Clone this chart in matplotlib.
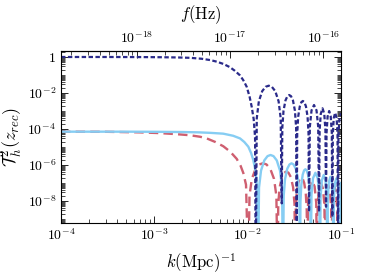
import numpy as np
import matplotlib
matplotlib.use('Agg')
import matplotlib.pyplot as plt
from matplotlib.ticker import LogLocator, NullFormatter, FixedLocator

plt.rcParams['mathtext.fontset'] = 'cm'
plt.rcParams['font.family'] = 'DejaVu Serif'

# dark blue dashed curve
k_dark = [1e-4, 3e-4, 7e-4, 1.2e-3, 1.8e-3, 2.41e-3, 3.2e-3, 4.0e-3, 4.66e-3, 5.5e-3,
          6.47e-3, 7.3e-3, 8.28e-3, 9.0e-3, 9.77e-3, 0.0105, 0.01105, 0.0116, 0.0120, 0.0122,
          0.012517, 0.013176, 0.014320, 0.015563, 0.016809, 0.018155, 0.019736, 0.021446, 0.022574,
          0.02316,
          0.023505, 0.024211, 0.025403, 0.026657, 0.027867, 0.029133, 0.030571, 0.032077, 0.033039,
          0.03353,
          0.033940, 0.034774, 0.036176, 0.037628, 0.039029, 0.040477, 0.042110, 0.043803, 0.044879,
          0.04543,
          0.04634, 0.04832, 0.05138, 0.05465, 0.05699, 0.05813,
          0.05900, 0.06069, 0.06339, 0.06617, 0.06808, 0.06910,
          0.06995, 0.07187, 0.07467, 0.07758, 0.07971, 0.08072,
          0.08170, 0.08356, 0.08659, 0.08978, 0.09178, 0.09292,
          0.09384, 0.09594, 0.0992, 0.1]
t_dark = [1.0, 1.0, 0.99, 0.97, 0.94, 0.9, 0.8, 0.67, 0.55, 0.41,
          0.27, 0.17, 0.095, 0.05, 0.022, 6e-3, 1.7e-3, 3.5e-4, 3.5e-5, 1e-12,
          4.0e-4, 3.46e-3, 0.01275, 0.02204, 0.0255, 0.02204, 0.01275, 3.46e-3, 4.0e-4,
          7.4e-9,
          1.21e-4, 1.04e-3, 3.85e-3, 6.66e-3, 7.7e-3, 6.66e-3, 3.85e-3, 1.04e-3, 1.21e-4,
          7e-10,
          5.65e-5, 4.88e-4, 1.8e-3, 3.11e-3, 3.6e-3, 3.11e-3, 1.8e-3, 4.88e-4, 5.65e-5,
          2.5e-9,
          1.3e-4, 1.08e-3, 2.15e-3, 1.08e-3, 1.3e-4, 2.5e-9,
          8.5e-5, 7e-4, 1.41e-3, 7e-4, 8.5e-5, 4.8e-9,
          6e-5, 5e-4, 1e-3, 5e-4, 6e-5, 1.3e-9,
          4.8e-5, 4e-4, 8e-4, 4e-4, 4.8e-5, 1e-12,
          4e-5, 3.3e-4, 6.6e-4, 6.5e-4]

# light blue solid curve
k_light = [1e-4, 5e-4, 1e-3, 2e-3, 3e-3, 4e-3, 5.48e-3, 7e-3, 8.28e-3, 9.2e-3,
           0.01016, 0.0109, 0.01148, 0.0122, 0.0125, 0.01291,
           0.013232, 0.013901, 0.015061, 0.016319, 0.017570, 0.018917, 0.020497, 0.022208, 0.023331,
           0.02391,
           0.024315, 0.025145, 0.026554, 0.028042, 0.029493, 0.031016, 0.032756, 0.034594, 0.035776,
           0.03638,
           0.036766, 0.037551, 0.038862, 0.040217, 0.041513, 0.042844, 0.044339, 0.045888, 0.046867,
           0.04737,
           0.04825, 0.05017, 0.05313, 0.05626, 0.05851, 0.05958,
           0.06044, 0.06234, 0.06520, 0.06822, 0.07034, 0.07135,
           0.07219, 0.07404, 0.07683, 0.07971, 0.08176, 0.08273,
           0.08371, 0.08586, 0.08911, 0.09246, 0.09482, 0.09594,
           0.09701, 0.09931, 0.1]
t_light = [7.1e-5, 7.1e-5, 7.0e-5, 6.8e-5, 6.5e-5, 6.1e-5, 5.5e-5, 4.2e-5, 3.0e-5, 1.9e-5,
           1.04e-5, 4.5e-6, 1.9e-6, 4e-7, 1e-7, 1e-12,
           5.65e-8, 4.88e-7, 1.8e-6, 3.11e-6, 3.6e-6, 3.11e-6, 1.8e-6, 4.88e-7, 5.65e-8,
           1e-12,
           1.95e-8, 1.68e-7, 6.2e-7, 1.072e-6, 1.24e-6, 1.072e-6, 6.2e-7, 1.68e-7, 1.95e-8,
           1e-12,
           9.1e-9, 7.86e-8, 2.9e-7, 5.01e-7, 5.8e-7, 5.01e-7, 2.9e-7, 7.86e-8, 9.1e-9,
           1e-12,
           2.2e-8, 1.85e-7, 3.7e-7, 1.85e-7, 2.2e-8, 1e-12,
           1.7e-8, 1.4e-7, 2.8e-7, 1.4e-7, 1.7e-8, 1e-12,
           1.3e-8, 1.1e-7, 2.2e-7, 1.1e-7, 1.3e-8, 1e-12,
           1.1e-8, 9e-8, 1.8e-7, 9e-8, 1.1e-8, 1e-12,
           9e-9, 7.5e-8, 1e-7]

# red dashed curve
k_red = [1e-4, 3e-4, 7e-4, 1.15e-3, 1.7e-3, 2.41e-3, 3.1e-3, 3.64e-3, 4.5e-3, 5.48e-3,
         6.5e-3, 7.63e-3, 8.4e-3, 8.98e-3, 9.6e-3, 0.01016,
         0.010457, 0.011078, 0.012166, 0.013359, 0.014568, 0.015884, 0.017448, 0.019160, 0.020298,
         0.02089,
         0.021258, 0.022013, 0.023297, 0.024655, 0.025984, 0.027371, 0.028979, 0.030671, 0.031759,
         0.03232,
         0.032705, 0.033488, 0.034802, 0.036167, 0.037475, 0.038830, 0.040350, 0.041932, 0.042936,
         0.04345,
         0.04433, 0.04617, 0.04903, 0.05209, 0.05427, 0.05534,
         0.05617, 0.05813, 0.06107, 0.06416, 0.06642, 0.06742,
         0.06825, 0.07021, 0.07312, 0.07616, 0.07838, 0.07935,
         0.08032, 0.08234, 0.08543, 0.08866, 0.09087, 0.09201,
         0.09292, 0.09524, 0.09858, 0.1]
t_red = [7.1e-5, 7.0e-5, 6.5e-5, 5.9e-5, 5.2e-5, 4.5e-5, 3.7e-5, 3.0e-5, 1.9e-5, 1.1e-5,
         5.5e-6, 2.2e-6, 9e-7, 3.6e-7, 8e-8, 1e-12,
         1.96e-8, 1.69e-7, 6.25e-7, 1.08e-6, 1.25e-6, 1.08e-6, 6.25e-7, 1.69e-7, 1.96e-8,
         1e-12,
         6.75e-9, 5.83e-8, 2.15e-7, 3.72e-7, 4.3e-7, 3.72e-7, 2.15e-7, 5.83e-8, 6.75e-9,
         1e-12,
         3.1e-9, 2.7e-8, 1e-7, 1.73e-7, 2e-7, 1.73e-7, 1e-7, 2.7e-8, 3.1e-9,
         1e-12,
         8e-9, 6.5e-8, 1.3e-7, 6.5e-8, 8e-9, 1e-12,
         5.7e-9, 4.8e-8, 9.5e-8, 4.8e-8, 5.7e-9, 1e-12,
         4.5e-9, 3.8e-8, 7.5e-8, 3.8e-8, 4.5e-9, 1e-12,
         3.6e-9, 3e-8, 6e-8, 3e-8, 3.6e-9, 1e-12,
         3e-9, 2.5e-8, 5e-8, 4.5e-8]

y_ticks = [1e-8, 1e-6, 1e-4, 1e-2, 1]
y_ticklabels = [r'$10^{-8}$', r'$10^{-6}$', r'$10^{-4}$', r'$10^{-2}$', r'$1$']
x_ticks = [1e-4, 1e-3, 1e-2, 1e-1]
x_ticklabels = [r'$10^{-4}$', r'$10^{-3}$', r'$10^{-2}$', r'$10^{-1}$']
f_ticks = [1e-18, 1e-17, 1e-16]
f_ticklabels = [r'$10^{-18}$', r'$10^{-17}$', r'$10^{-16}$']

# f = c k / (2 pi), k in Mpc^-1
k_to_f = 2.998e8 / (2 * np.pi * 3.0857e22)

fig = plt.figure(figsize=(3.74, 2.76), dpi=100)
ax = fig.add_axes([0.1631, 0.192, 0.7487, 0.6232])

ax.plot(k_red, t_red, color='#cf5f70', lw=1.7, ls=(0, (4.0, 2.2)))
ax.plot(k_light, t_light, color='#86cdf3', lw=1.7)
ax.plot(k_dark, t_dark, color='#2a2a8a', lw=1.6, ls=(0, (2.0, 1.1)))

ax.set_xscale('log')
ax.set_yscale('log')
ax.set_xlim(1e-4, 1e-1)
ax.set_ylim(6e-10, 2.15)

ax.yaxis.set_major_locator(FixedLocator(y_ticks))
ax.set_yticklabels(y_ticklabels)
ax.yaxis.set_minor_locator(LogLocator(base=10, subs=np.arange(1, 10), numticks=100))
ax.yaxis.set_minor_formatter(NullFormatter())
ax.xaxis.set_major_locator(FixedLocator(x_ticks))
ax.set_xticklabels(x_ticklabels)
ax.xaxis.set_minor_locator(LogLocator(base=10, subs=np.arange(2, 10), numticks=100))
ax.xaxis.set_minor_formatter(NullFormatter())

ax.tick_params(which='both', direction='in', right=True, top=False, labelsize=10)
ax.tick_params(which='major', length=5, width=0.6)
ax.tick_params(which='minor', length=3, width=0.5)
for s in ax.spines.values():
    s.set_linewidth(0.8)

ax.set_xlabel(r'$k(\mathrm{Mpc})^{-1}$', fontsize=12, labelpad=6)
ax.set_ylabel(r'$\mathcal{T}_h^2(z_{rec})$', fontsize=13, labelpad=2)

sec = ax.secondary_xaxis('top', functions=(lambda k: k * k_to_f, lambda f: f / k_to_f))
sec.set_xscale('log')
sec.xaxis.set_major_locator(FixedLocator(f_ticks))
sec.set_xticklabels(f_ticklabels)
sec.xaxis.set_minor_locator(LogLocator(base=10, subs=np.arange(2, 10), numticks=100))
sec.xaxis.set_minor_formatter(NullFormatter())
sec.tick_params(which='both', direction='in', labelsize=10)
sec.tick_params(which='major', length=5, width=0.6)
sec.tick_params(which='minor', length=3, width=0.5)
sec.set_xlabel(r'$f(\mathrm{Hz})$', fontsize=12, labelpad=8)

fig.savefig('out.png', dpi=100)
